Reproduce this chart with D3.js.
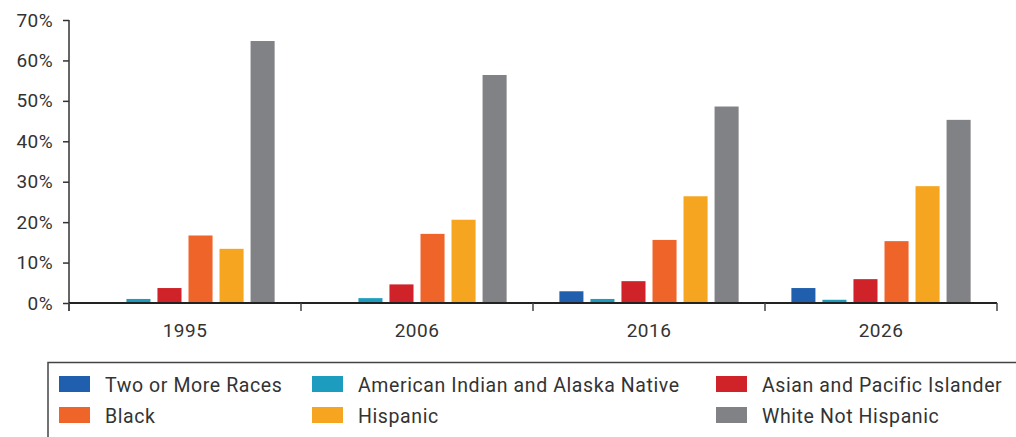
<!DOCTYPE html>
<html>
<head>
<meta charset="utf-8">
<script src="https://cdn.jsdelivr.net/npm/d3@7"></script>
<style>
  body { margin: 0; background: #fff; }
  svg text { font-family: Roboto, "Noto Sans", sans-serif; fill: #333; }
</style>
</head>
<body>
<script>
// chart data
var years = ['1995', '2006', '2016', '2026']
var groups = ['Two or More Races', 'American Indian and Alaska Native', 'Asian and Pacific Islander',
  'Black', 'Hispanic', 'White Not Hispanic']
var colors = ['#1f5fad', '#1c9dbf', '#cf2229', '#ef6428', '#f6a520', '#818285']

var twoOrMore = [0, 0, 2.9, 3.7]
var amIndian = [1.0, 1.2, 1.0, 0.8]
var asianPI = [3.7, 4.6, 5.4, 5.9]
var black = [16.7, 17.1, 15.6, 15.3]
var hispanic = [13.4, 20.6, 26.4, 28.9]
var whiteNH = [64.8, 56.4, 48.6, 45.3]
var series = [twoOrMore, amIndian, asianPI, black, hispanic, whiteNH]

var yTicks = [0, 10, 20, 30, 40, 50, 60, 70]

// dimensions
var W = 1016, H = 437
var margin = {top: 20, left: 69, right: 19}
var plotH = 303 - margin.top

var svg = d3.select('body').append('svg')
  .attr('width', W)
  .attr('height', H)

var x0 = d3.scaleBand().domain(years).range([margin.left, W - margin.right])
var x1 = d3.scaleBand().domain(d3.range(groups.length))
  .range([0, x0.bandwidth()]).paddingInner(0.225).paddingOuter(0.85)
var y = d3.scaleLinear().domain([0, 70]).range([margin.top + plotH, margin.top])

// bars
years.forEach(function(yr, i) {
  var g = svg.append('g').attr('transform', 'translate(' + x0(yr) + ',0)')
  series.forEach(function(s, j) {
    if (!s[i]) return
    g.append('rect')
      .attr('x', x1(j))
      .attr('y', y(s[i]))
      .attr('width', x1.bandwidth())
      .attr('height', y(0) - y(s[i]))
      .attr('fill', colors[j])
  })
})

// y axis
var yAxis = d3.axisLeft(y).tickValues(yTicks).tickSize(6).tickPadding(10)
  .tickFormat(function(d) { return d + '%' })
var ya = svg.append('g')
  .attr('transform', 'translate(' + margin.left + ',0)')
  .call(yAxis)
ya.select('.domain').remove()
ya.append('line').attr('x1', 0).attr('x2', 0).attr('y1', y(70)).attr('y2', y(0) + 8)
  .attr('stroke', '#333').attr('stroke-width', 1.5)
ya.selectAll('.tick line').attr('stroke', '#333').attr('stroke-width', 1.5)
ya.selectAll('.tick text').style('font-size', '19px').style('letter-spacing', '0.4px').attr('fill', '#333')

// x axis
var xa = svg.append('g').attr('transform', 'translate(0,' + y(0) + ')')
xa.append('line').attr('x1', margin.left).attr('x2', W - margin.right)
  .attr('stroke', '#222').attr('stroke-width', 1.8)
var edges = years.map(function(d) { return x0(d) }).concat([W - margin.right])
xa.selectAll('.xt').data(edges).enter().append('line')
  .attr('x1', function(d) { return d }).attr('x2', function(d) { return d })
  .attr('y1', 0).attr('y2', 8)
  .attr('stroke', '#444').attr('stroke-width', 1.5)
xa.selectAll('.xl').data(years).enter().append('text')
  .attr('x', function(d) { return x0(d) + x0.bandwidth() / 2 })
  .attr('y', 34)
  .attr('text-anchor', 'middle')
  .style('font-size', '19px')
  .style('letter-spacing', '0.5px')
  .text(function(d) { return d })

// legend
var lg = svg.append('g')
lg.append('path')
  .attr('d', 'M48,' + (H + 2) + 'V362.5H' + (W + 2))
  .attr('fill', 'none').attr('stroke', '#444').attr('stroke-width', 1.5)
var colX = [59, 312, 716]
var rowY = [376, 407]
groups.forEach(function(name, j) {
  var cx = colX[j % 3], cy = rowY[Math.floor(j / 3)]
  lg.append('rect').attr('x', cx).attr('y', cy).attr('width', 31).attr('height', 16)
    .attr('fill', colors[j])
  lg.append('text').attr('x', cx + 46).attr('y', cy + 15.5)
    .style('font-size', '19.5px')
    .style('letter-spacing', '0.6px')
    .text(name)
})
</script>
</body>
</html>
